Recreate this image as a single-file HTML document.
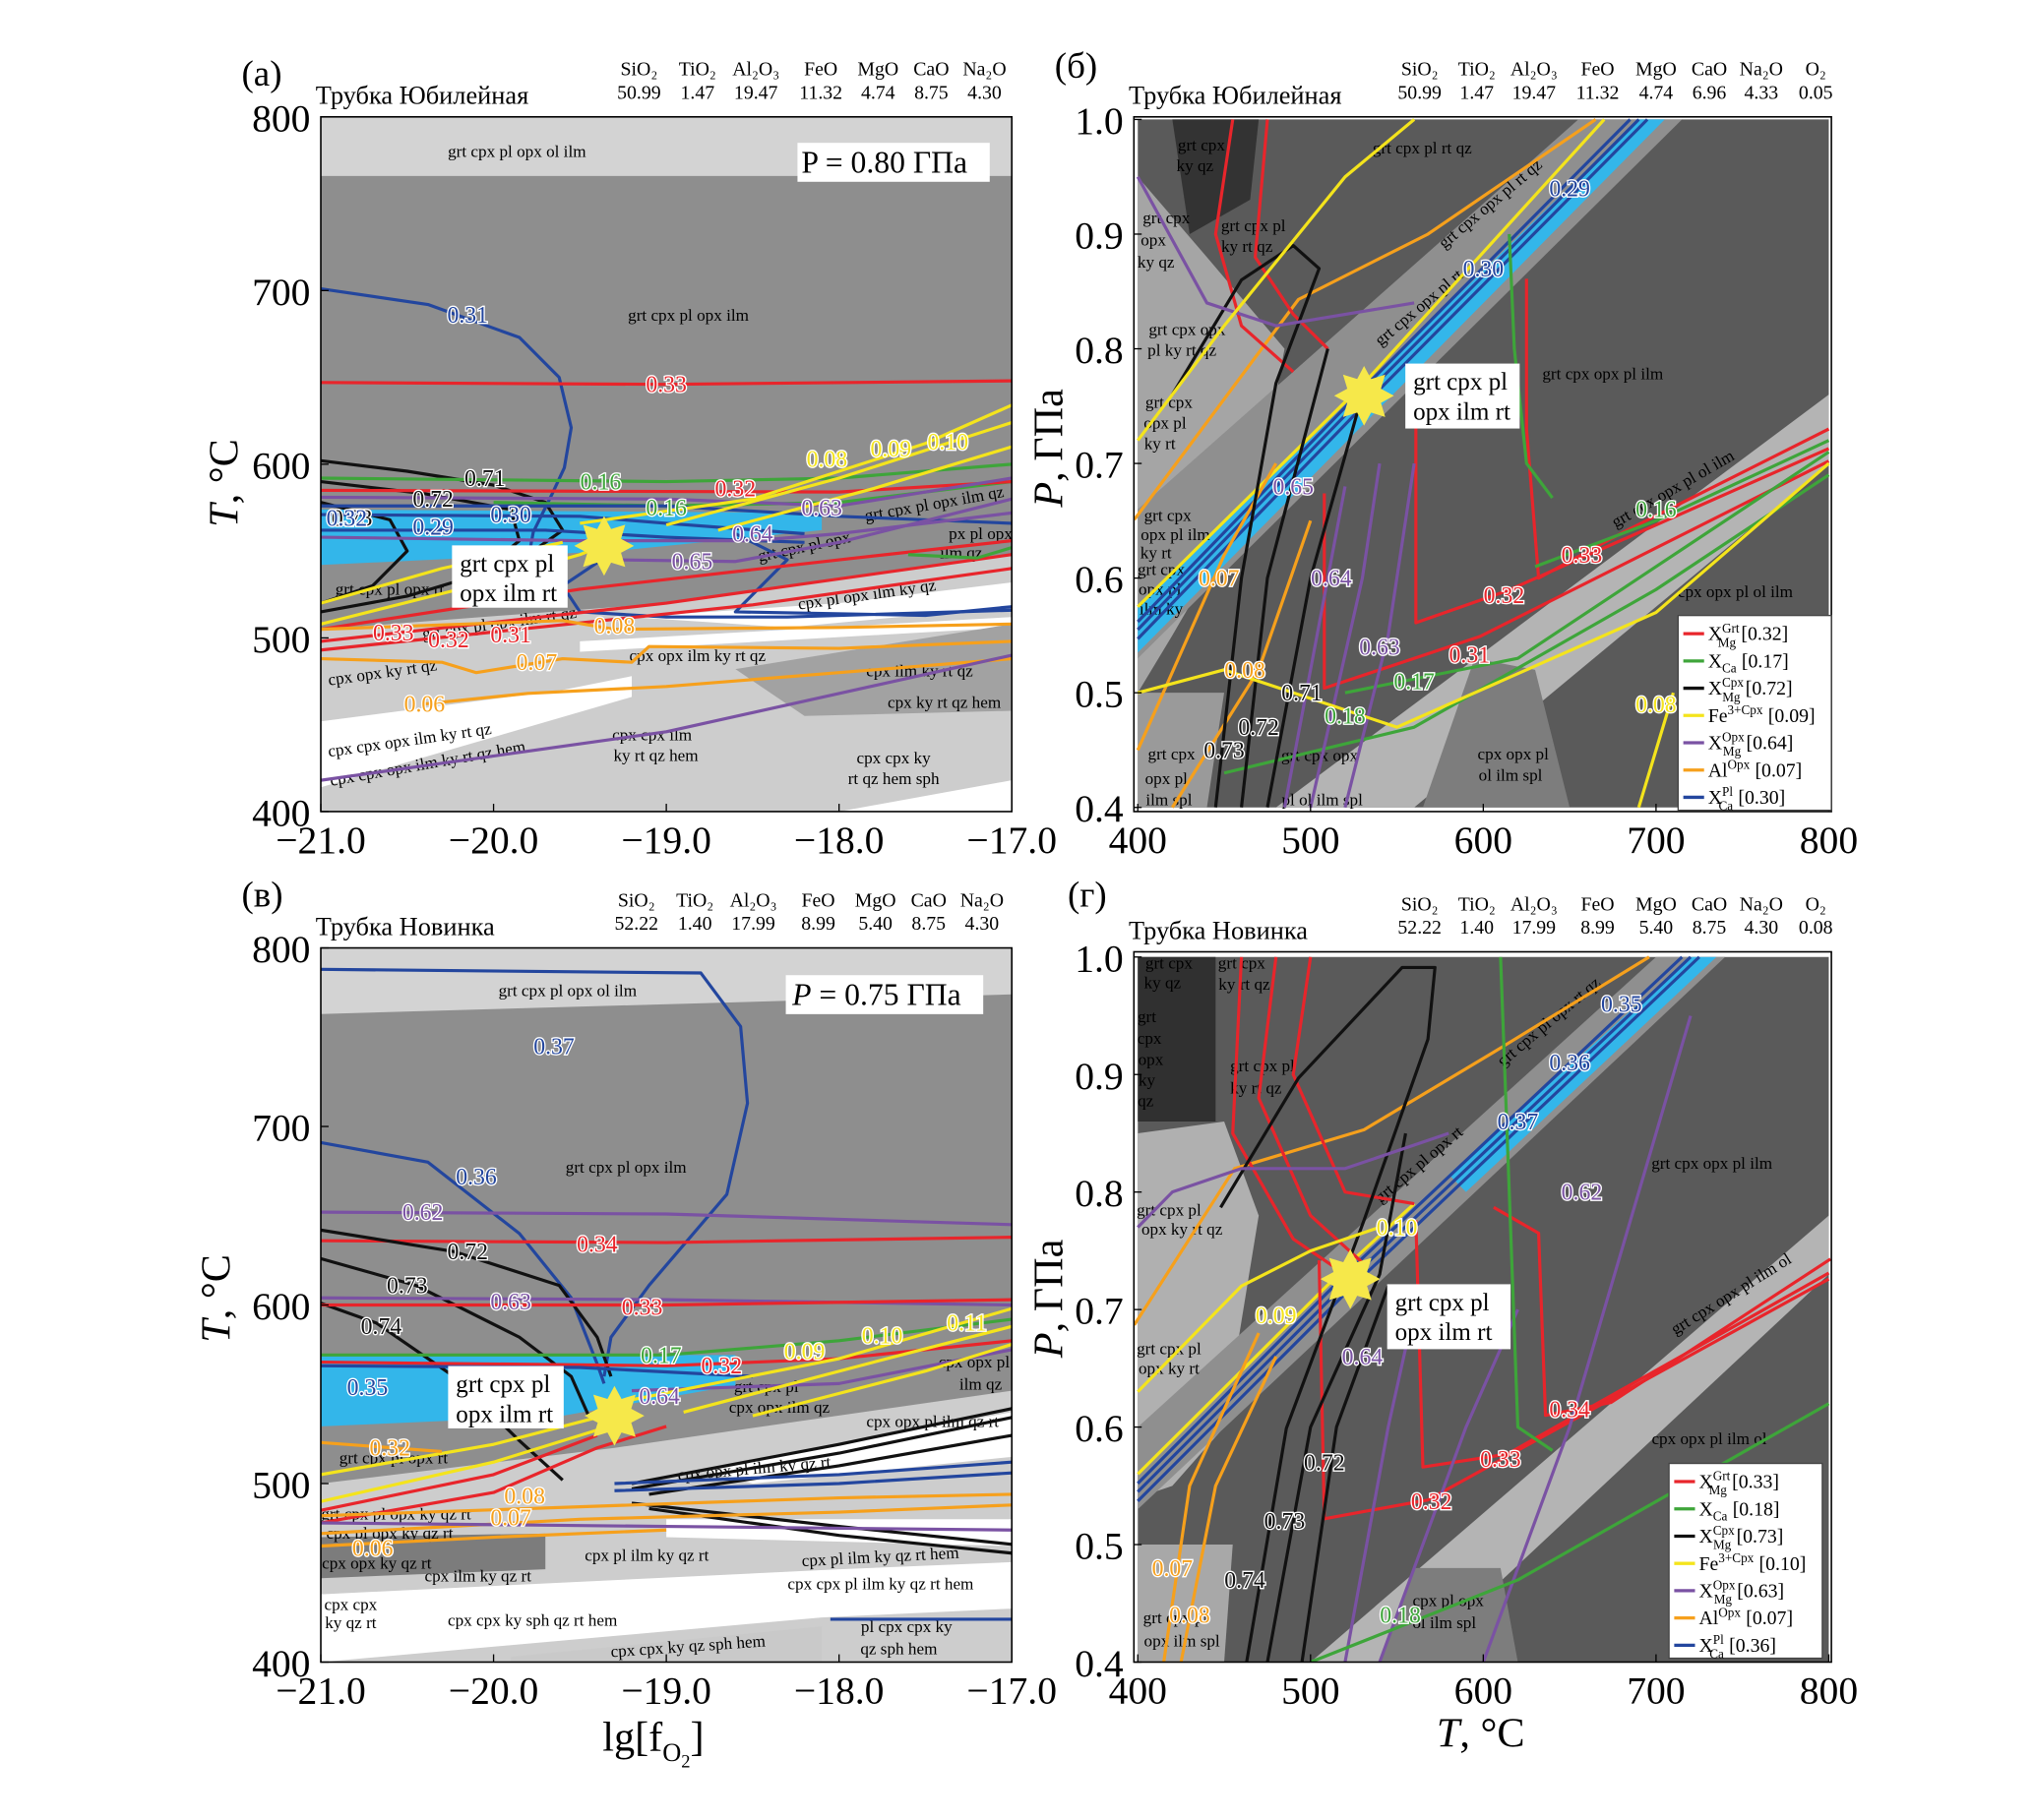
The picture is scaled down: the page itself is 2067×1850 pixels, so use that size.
<!DOCTYPE html>
<html><head><meta charset="utf-8"><style>
html,body{margin:0;padding:0;background:#fff;}
svg{display:block;font-family:"Liberation Serif",serif;}
</style></head><body>
<svg id="fig" width="2067" height="1850" viewBox="0 0 1566 1401.6" xmlns="http://www.w3.org/2000/svg"></svg>
<script>
// ---------- data arrays ----------
const fo2Ticks=[-21,-20,-19,-18,-17];
const fo2TickLabels=['−21.0','−20.0','−19.0','−18.0','−17.0'];
const tTicksA=[400,500,600,700,800];
const pTicks=[0.4,0.5,0.6,0.7,0.8,0.9,1.0];
const pTickLabels=['0.4','0.5','0.6','0.7','0.8','0.9','1.0'];
const tTicksB=[400,500,600,700,800];
const oxidesA=['SiO₂','TiO₂','Al₂O₃','FeO','MgO','CaO','Na₂O'];
const oxValsA=['50.99','1.47','19.47','11.32','4.74','8.75','4.30'];
const oxidesB=['SiO₂','TiO₂','Al₂O₃','FeO','MgO','CaO','Na₂O','O₂'];
const oxValsB=['50.99','1.47','19.47','11.32','4.74','6.96','4.33','0.05'];
const oxValsC=['52.22','1.40','17.99','8.99','5.40','8.75','4.30'];
const oxValsD=['52.22','1.40','17.99','8.99','5.40','8.75','4.30','0.08'];
const legendValsB=['0.32','0.17','0.72','0.09','0.64','0.07','0.30'];
const legendValsD=['0.33','0.18','0.73','0.10','0.63','0.07','0.36'];

const C={r:'#e8252b',g:'#3ea53a',k:'#111',y:'#f4e41c',p:'#7a52a3',o:'#f6a01c',b:'#23469e',c:'#33b6ea'};

// Panel A (fO2, T)
const aRegions=[
 ['#8e8e8e',[[-21,800],[-17,800],[-17,400],[-21,400]]],
 ['#d3d3d3',[[-21,800],[-17,800],[-17,766],[-21,766]]],
 ['#cdcdcd',[[-21,505],[-19,520],[-17,548],[-17,400],[-21,400]]],
 ['#ffffff',[[-19.2,512],[-18,520],[-17,532],[-17,518],[-18.3,506]]],
 ['#ffffff',[[-19.5,498],[-17,512],[-17,506],[-19.5,492]]],
 ['#a2a2a2',[[-18.6,482],[-17,508],[-17,458],[-18.2,455]]],
 ['#ffffff',[[-21,452],[-19.6,470],[-19.2,478],[-19.2,466],[-21,414]]],
 ['#ffffff',[[-18,400],[-17,400],[-17,418]]]
];
const aCyan=[[-21,574],[-18.1,572],[-18.1,562],[-19.3,550],[-21,542]];
const aCurves=[
 [C.b,[[-21,701],[-20.38,692],[-19.85,673],[-19.62,650],[-19.55,621],[-19.59,598],[-19.66,583],[-19.77,561],[-19.8,545],[-19.7,522]],'0.31',[-20.15,686]],
 [C.r,[[-21,647],[-19,646],[-17,648]],'0.33',[-19,646]],
 [C.k,[[-21,602],[-20.5,596],[-20,588],[-19.7,578],[-19.6,562],[-19.8,548],[-20.1,532]],'0.71',[-20.05,592]],
 [C.k,[[-21,590],[-20.4,583],[-19.9,574],[-19.85,556],[-20.1,536],[-20.5,524],[-21,515]],'0.72',[-20.35,580]],
 [C.k,[[-21,578],[-20.6,568],[-20.5,550],[-20.7,530],[-21,520]],'0.73',[-20.82,569]],
 [C.g,[[-21,592],[-19,590],[-18,592],[-17,600]],'0.16',[-19.38,590]],
 [C.g,[[-20,578],[-19,576],[-18,578],[-17,590]],'0.16',[-19,575]],
 [C.r,[[-21,585],[-18,584],[-17,590]],'0.32',[-18.6,586]],
 [C.p,[[-21,581],[-19,580],[-18,576],[-17,592]],'0.63',[-18.1,575]],
 [C.b,[[-21,576],[-19,576],[-18,570],[-17,566]],'0.32',[-20.85,569]],
 [C.b,[[-21,571],[-19.5,570],[-19,566],[-18.2,560]],'0.30',[-19.9,571]],
 [C.b,[[-21,562],[-19.7,562],[-19,558],[-18.2,555]],'0.29',[-20.35,564]],
 [C.p,[[-21,558],[-19.5,556],[-18.5,556],[-18,560],[-17,572]],'0.64',[-18.5,560]],
 [C.b,[[-19.3,550],[-19.6,530],[-19.5,515],[-19,512],[-18.3,512],[-17,516]],'',null],
 [C.b,[[-18.6,560],[-18.3,545],[-18.6,515],[-17.5,513],[-17,518]],'',null],
 [C.p,[[-19.3,545],[-18.6,544],[-18,555],[-17,580]],'0.65',[-18.85,544]],
 [C.y,[[-19.5,566],[-18.5,580],[-17.5,612],[-17,634]],'0.08',[-18.07,603]],
 [C.y,[[-19,565],[-18,592],[-17,624]],'0.09',[-17.7,609]],
 [C.y,[[-18.7,562],[-17.8,586],[-17,610]],'0.10',[-17.37,613]],
 [C.y,[[-21,508],[-20.2,528],[-19.5,548],[-19.3,556]],'',null],
 [C.y,[[-21,520],[-20.3,540],[-19.6,555]],'',null],
 [C.r,[[-21,505],[-19.5,528],[-18,545],[-17,556]],'0.33',[-20.58,503]],
 [C.r,[[-21,498],[-19,520],[-17,548]],'0.32',[-20.26,499]],
 [C.r,[[-21,493],[-18.5,519],[-17,540]],'0.31',[-19.9,502]],
 [C.o,[[-21,505],[-19.6,510],[-19.3,505],[-18,506],[-17,508]],'0.08',[-19.3,507]],
 [C.o,[[-21,488],[-20.3,486],[-20.1,480],[-19.6,488],[-19.2,486],[-19.1,495],[-18,494],[-17,498]],'0.07',[-19.75,486]],
 [C.o,[[-20.4,462],[-19.8,468],[-19,472],[-18,480],[-17,488]],'0.06',[-20.4,462]],
 [C.p,[[-21,418],[-19,446],[-17,490]],'',null],
 [C.g,[[-17.6,548],[-17.2,546],[-17,552]],'',null]
];
const aStar=[-19.36,553];

// Panel B (T, P)
const bRegions=[
 ['#5a5a5a',[[400,1],[800,1],[800,0.4],[400,0.4]]],
 ['#333333',[[420,1],[470,1],[465,0.93],[430,0.9]]],
 ['#a5a5a5',[[400,0.95],[440,0.88],[485,0.8],[470,0.68],[420,0.55],[400,0.5]]],
 ['#8f8f8f',[[400,0.66],[655,1],[715,1],[400,0.53]]],
 ['#b4b4b4',[[480,0.4],[560,0.4],[800,0.7],[800,0.76]]],
 ['#7d7d7d',[[565,0.4],[650,0.4],[630,0.52],[595,0.53]]],
 ['#9a9a9a',[[400,0.4],[440,0.4],[450,0.5],[400,0.5]]]
];
const bCyan=[[400,0.575],[690,1.0],[705,1.0],[400,0.535]];
const bCurves=[
 [C.b,[[400,0.555],[531,0.759],[690,1.0]],'',null],
 [C.b,[[400,0.547],[531,0.751],[695,1.0]],'0.30',[600,0.87]],
 [C.b,[[400,0.562],[531,0.766],[685,1.0]],'0.29',[650,0.94]],
 [C.y,[[400,0.575],[531,0.77],[670,1.0]],'',null],
 [C.o,[[398,0.651],[493,0.843],[568,0.9],[665,1.0]],'',null],
 [C.o,[[400,0.45],[450,0.62],[480,0.7]],'0.07',[447,0.6]],
 [C.o,[[420,0.4],[470,0.52],[500,0.65]],'0.08',[462,0.52]],
 [C.r,[[625,0.861],[625,0.73],[632,0.6],[681,0.64],[800,0.73]],'0.33',[657,0.62]],
 [C.r,[[561,0.742],[561,0.561],[614,0.589],[800,0.713]],'0.32',[612,0.585]],
 [C.r,[[508,0.674],[508,0.504],[598,0.549],[800,0.702]],'0.31',[592,0.533]],
 [C.r,[[455,1.0],[445,0.9],[460,0.82],[490,0.78]],'',null],
 [C.r,[[475,1.0],[468,0.88],[490,0.83],[510,0.8]],'',null],
 [C.g,[[615,0.9],[618,0.8],[625,0.7],[640,0.67]],'',null],
 [C.g,[[630,0.61],[700,0.65],[800,0.72]],'0.16',[700,0.66]],
 [C.g,[[520,0.5],[620,0.53],[800,0.71]],'0.17',[560,0.51]],
 [C.g,[[450,0.43],[560,0.47],[700,0.59],[800,0.69]],'0.18',[520,0.48]],
 [C.k,[[445,0.4],[460,0.6],[480,0.77],[505,0.87],[490,0.89],[460,0.86],[420,0.76]],'0.73',[450,0.45]],
 [C.k,[[460,0.4],[475,0.6],[510,0.8]],'0.72',[470,0.47]],
 [C.k,[[475,0.4],[500,0.6],[530,0.76]],'0.71',[495,0.5]],
 [C.p,[[485,0.4],[510,0.6],[520,0.68]],'0.65',[490,0.68]],
 [C.p,[[500,0.4],[530,0.6],[540,0.7]],'0.64',[512,0.6]],
 [C.p,[[520,0.4],[545,0.55],[560,0.7]],'0.63',[540,0.54]],
 [C.p,[[400,0.95],[440,0.84],[480,0.82],[560,0.84]],'',null],
 [C.y,[[400,0.5],[450,0.52],[550,0.47],[700,0.57],[800,0.7]],'',null],
 [C.y,[[400,0.72],[450,0.82],[520,0.95],[560,1.0]],'',null],
 [C.y,[[690,0.4],[700,0.45],[710,0.5]],'0.08',[700,0.49]]
];
const bStar=[531,0.759];

// Panel C (fO2, T)
const cRegions=[
 ['#8e8e8e',[[-21,800],[-17,800],[-17,400],[-21,400]]],
 ['#d3d3d3',[[-21,800],[-17,800],[-17,774],[-21,763]]],
 ['#cdcdcd',[[-21,500],[-19.3,520],[-17,552],[-17,400],[-21,400]]],
 ['#ffffff',[[-18.8,508],[-17,540],[-17,515],[-18.5,500]]],
 ['#ffffff',[[-19,480],[-17,480],[-17,465],[-19,470]]],
 ['#7c7c7c',[[-21,470],[-19.7,472],[-19.7,452],[-21,447]]],
 ['#ffffff',[[-21,438],[-18,452],[-17,456],[-17,430],[-18.1,425],[-21,400]]],
 ['#c9c9c9',[[-19.9,403],[-18.1,420],[-18.1,400],[-19.9,400]]]
];
const cCyan=[[-21,572],[-18.6,572],[-18.6,555],[-19.6,538],[-21,532]];
const cCurves=[
 [C.b,[[-21,788],[-18.8,786],[-18.57,756],[-18.53,713],[-18.65,662],[-19.1,611],[-19.32,582],[-19.36,560]],'0.37',[-19.65,745]],
 [C.b,[[-21,691],[-20.38,680],[-19.85,640],[-19.55,604],[-19.4,567],[-19.36,556]],'0.36',[-20.1,672]],
 [C.p,[[-21,652],[-19,651],[-17,645]],'0.62',[-20.41,652]],
 [C.r,[[-21,636],[-19,635],[-17,638]],'0.34',[-19.4,634]],
 [C.k,[[-21,642],[-20.23,630],[-19.62,611],[-19.4,582],[-19.32,560]],'0.72',[-20.15,630]],
 [C.k,[[-21,626],[-20.45,611],[-19.85,582],[-19.55,560],[-19.45,538]],'0.73',[-20.5,611]],
 [C.k,[[-21,601],[-20.68,590],[-20.23,560],[-19.85,524],[-19.6,502]],'0.74',[-20.65,588]],
 [C.p,[[-21,604],[-19,603],[-17,600]],'0.63',[-19.9,602]],
 [C.r,[[-21,600],[-19,600],[-17,603]],'0.33',[-19.14,599]],
 [C.g,[[-21,572],[-19,572],[-18,580],[-17,592]],'0.17',[-19.03,572]],
 [C.r,[[-21,568],[-19,566],[-18,570],[-17,580]],'0.32',[-18.68,566]],
 [C.b,[[-21,566],[-19.5,565],[-18.5,560]],'0.35',[-20.73,554]],
 [C.p,[[-19.2,552],[-18,556],[-17,575]],'0.64',[-19.04,549]],
 [C.y,[[-19.3,545],[-18,570],[-17,598]],'0.09',[-18.2,574]],
 [C.y,[[-18.9,540],[-17.8,568],[-17,588]],'0.10',[-17.75,583]],
 [C.y,[[-18.5,538],[-17.5,563],[-17,578]],'0.11',[-17.26,590]],
 [C.y,[[-21,505],[-20,522],[-19.4,537]],'',null],
 [C.y,[[-21,490],[-20,512],[-19.4,530]],'',null],
 [C.r,[[-21,478],[-20,495],[-19.4,520],[-19,532]],'',null],
 [C.r,[[-21,485],[-20,505],[-19.4,527]],'',null],
 [C.k,[[-19.2,500],[-18,522],[-17,542]],'',null],
 [C.k,[[-19.2,497],[-18,517],[-17,537]],'',null],
 [C.k,[[-19.1,494],[-18,510],[-17,527]],'',null],
 [C.k,[[-19.1,486],[-18,471],[-17,461]],'',null],
 [C.k,[[-19.2,489],[-18,476],[-17,466]],'',null],
 [C.b,[[-19.3,500],[-18,505],[-17,512]],'',null],
 [C.b,[[-19.3,496],[-18,500],[-17,506]],'',null],
 [C.o,[[-21,523],[-20.3,518]],'0.32',[-20.6,520]],
 [C.o,[[-21,482],[-19.5,487],[-18,492],[-17,494]],'0.08',[-19.82,493]],
 [C.o,[[-21,472],[-19.5,480],[-18,484],[-17,488]],'0.07',[-19.9,481]],
 [C.o,[[-21,465],[-20,470],[-19,474]],'0.06',[-20.7,464]],
 [C.p,[[-21,478],[-19,476],[-17,474]],'',null],
 [C.b,[[-18.05,424],[-17,424]],'',null]
];
const cStar=[-19.3,538];

// Panel D (T, P)
const dRegions=[
 ['#5a5a5a',[[400,1],[800,1],[800,0.4],[400,0.4]]],
 ['#303030',[[400,1],[445,1],[445,0.86],[400,0.86]]],
 ['#b0b0b0',[[400,0.85],[450,0.86],[470,0.78],[450,0.6],[420,0.55],[400,0.54]]],
 ['#8f8f8f',[[400,0.6],[700,1.0],[740,1.0],[400,0.53]]],
 ['#b4b4b4',[[500,0.4],[560,0.4],[800,0.73],[800,0.78]]],
 ['#7d7d7d',[[540,0.4],[620,0.4],[610,0.48],[560,0.48]]],
 ['#a8a8a8',[[400,0.4],[450,0.4],[455,0.5],[400,0.5]]]
];
const dCyan=[[580,0.815],[720,1.0],[735,1.0],[590,0.8]];
const dCurves=[
 [C.b,[[400,0.545],[523,0.726],[720,1.0]],'0.37',[620,0.86]],
 [C.b,[[400,0.537],[523,0.718],[725,1.0]],'0.36',[650,0.91]],
 [C.b,[[400,0.552],[523,0.734],[715,1.0]],'0.35',[680,0.96]],
 [C.y,[[400,0.56],[523,0.74],[560,0.79]],'0.10',[550,0.77]],
 [C.o,[[398,0.687],[456,0.82],[531,0.853],[606,0.919],[696,1.0]],'',null],
 [C.o,[[415,0.4],[430,0.55],[470,0.68]],'0.07',[420,0.48]],
 [C.o,[[425,0.4],[445,0.55],[480,0.66]],'0.08',[430,0.44]],
 [C.r,[[606,0.787],[632,0.765],[636,0.61],[674,0.621],[801,0.743]],'0.34',[650,0.615]],
 [C.r,[[561,0.776],[565,0.566],[614,0.577],[800,0.731]],'0.33',[610,0.573]],
 [C.r,[[505,0.742],[508,0.522],[568,0.538],[800,0.726]],'0.32',[570,0.537]],
 [C.r,[[460,1.0],[455,0.85],[490,0.76],[520,0.73]],'',null],
 [C.r,[[480,1.0],[470,0.88],[500,0.78],[530,0.74]],'',null],
 [C.r,[[500,1.0],[490,0.9],[520,0.8],[560,0.79]],'',null],
 [C.k,[[463,0.4],[486,0.599],[531,0.776],[568,0.93],[572,0.991],[553,0.991],[493,0.897],[448,0.787]],'0.74',[462,0.47]],
 [C.k,[[475,0.4],[500,0.6],[540,0.73],[555,0.85]],'0.73',[485,0.52]],
 [C.k,[[495,0.4],[515,0.6],[545,0.72]],'0.72',[508,0.57]],
 [C.p,[[520,0.4],[545,0.6],[560,0.7]],'0.64',[530,0.66]],
 [C.p,[[540,0.4],[590,0.6],[620,0.7]],'0.63',[580,0.68]],
 [C.p,[[600,0.4],[650,0.6],[700,0.85],[720,0.95]],'0.62',[657,0.8]],
 [C.p,[[400,0.77],[420,0.8],[460,0.82],[520,0.82],[580,0.85]],'',null],
 [C.g,[[500,0.4],[620,0.47],[800,0.62]],'0.18',[552,0.44]],
 [C.g,[[610,1.0],[615,0.8],[620,0.6],[640,0.58]],'',null],
 [C.y,[[400,0.63],[460,0.72],[500,0.75],[540,0.77]],'0.09',[480,0.695]]
];
const dStar=[523,0.726];

// ---------- drawing helpers ----------
const NS='http://www.w3.org/2000/svg';
const svg=document.getElementById('fig');
function mk(tag,attrs,parent){const e=document.createElementNS(NS,tag);for(const k in attrs)e.setAttribute(k,attrs[k]);(parent||svg).appendChild(e);return e;}
function txt(x,y,s,size,parent,anchor,name){
  const t=mk('text',{x:x,y:y,'font-size':size,'text-anchor':anchor||'start',fill:'#000'},parent);
  t.textContent=s;
  
  
  return t;
}
function pts(arr,fx,fy){return arr.map(p=>fx(p[0]).toFixed(1)+','+fy(p[1]).toFixed(1)).join(' ');}
function star(cx,cy,g){
  let s=[];for(let i=0;i<16;i++){const r=i%2?14:23;const a=i*Math.PI/8-Math.PI/2;s.push((cx+r*Math.cos(a)).toFixed(1)+','+(cy+r*Math.sin(a)).toFixed(1));}
  const e=mk('polygon',{points:s.join(' '),fill:'#f6e84a'},g);
  
  
}
function panel(P){
  const g=mk('g',{});
  
  
  const cp=mk('clipPath',{id:'clip'+P.id},g);
  mk('rect',{x:P.x0,y:P.y0,width:P.x1-P.x0,height:P.y1-P.y0},cp);
  const inner=mk('g',{'clip-path':'url(#clip'+P.id+')'},g);
  P.regions.forEach(r=>{
    const e=mk('polygon',{points:pts(r[1],P.fx,P.fy),fill:r[0]},inner);
    
    
  });
  const cy=mk('polygon',{points:pts(P.cyan,P.fx,P.fy),fill:C.c},inner);
  
  
  P.fields.forEach(f=>{
    const t=txt(f[0],f[1],f[2],f[3]||13,inner,'middle','field-label');
    if(f[4])t.setAttribute('transform','rotate('+f[4]+' '+f[0]+' '+f[1]+')');
  });
  P.curves.forEach(c=>{
    const e=mk('polyline',{points:pts(c[1],P.fx,P.fy),fill:'none',stroke:c[0],'stroke-width':2.4,'stroke-linejoin':'round'},inner);
    
    
  });
  P.curves.forEach(c=>{
    if(!c[3])return;
    const t=mk('text',{x:P.fx(c[3][0]),y:P.fy(c[3][1])+6,'font-size':18,'text-anchor':'middle',fill:c[0],stroke:'#fff','stroke-width':2,'paint-order':'stroke'},inner);
    t.textContent=c[2];
    
    
  });
  star(P.fx(P.star[0]),P.fy(P.star[1]),inner);
  const bx=P.box;
  const br=mk('rect',{x:bx[0],y:bx[1],width:bx[2],height:bx[3],fill:'#fff'},inner);
  
  
  txt(bx[0]+6,bx[1]+20,'grt cpx pl',19,inner,'start','assemblage-label');
  txt(bx[0]+6,bx[1]+43,'opx ilm rt',19,inner,'start','assemblage-label');
  const fr=mk('rect',{x:P.x0,y:P.y0,width:P.x1-P.x0,height:P.y1-P.y0,fill:'none',stroke:'#000','stroke-width':1.2},g);
  
  
  P.xt.forEach((v,i)=>{
    const x=P.fx(v);
    const tk=mk('line',{x1:x,x2:x,y1:P.y1,y2:P.y1-6,stroke:'#000'},g);
    
    
    txt(x,P.y1+32,P.xl[i],30,g,'middle','x-tick-label');
  });
  P.yt.forEach((v,i)=>{
    const y=P.fy(v);
    const tk=mk('line',{x1:P.x0,x2:P.x0+6,y1:y,y2:y,stroke:'#000'},g);
    
    
    txt(P.x0-8,y+11,P.yl[i],30,g,'end','y-tick-label');
  });
  txt(P.hx[0],P.hx[1],P.letter,28,g,'start','panel-letter');
  txt(P.x0-4,P.y0-10,P.title,20,g,'start','panel-title');
  P.ox.forEach((o,i)=>{
    txt(P.oxx[i],P.y0-32,o,15,g,'middle','oxide-name');
    txt(P.oxx[i],P.y0-14,P.ov[i],15,g,'middle','oxide-value');
  });
  return inner;
}
function legend(x,y,vals,parent){
  const r=mk('rect',{x:x,y:y,width:118,height:150,fill:'#fff',stroke:'#444','stroke-width':1},parent);
  
  
  const cols=[C.r,C.g,C.k,C.y,C.p,C.o,C.b];
  const main=['X','X','X','Fe','X','Al','X'];
  const sub=['Mg','Ca','Mg','','Mg','','Ca'];
  const sup=['Grt','','Cpx','3+Cpx','Opx','Opx','Pl'];
  vals.forEach((v,i)=>{
    const yy=y+14+i*21;
    const l=mk('line',{x1:x+4,x2:x+20,y1:yy,y2:yy,stroke:cols[i],'stroke-width':2.5},parent);
    
    
    const t=mk('text',{x:x+23,y:yy+5,'font-size':15},parent);
    
    
    let h='<tspan>'+main[i]+'</tspan>';
    if(sup[i])h+='<tspan font-size="10" dy="-6">'+sup[i]+'</tspan>';
    if(sub[i])h+='<tspan font-size="10" dx="'+(sup[i]?-(sup[i].length*5.5):0)+'" dy="'+(sup[i]?11:4)+'">'+sub[i]+'</tspan>';
    h+='<tspan font-size="15" dx="4" dy="'+(sup[i]&&sub[i]?-5:(sup[i]?6:(sub[i]?-4:0)))+'">['+v+']</tspan>';
    t.innerHTML=h;
  });
}

const fxA=v=>247+(v+21)*133, fyA=v=>625-(v-400)*1.3375;
const fxB=v=>876+(v-400)*1.33, fyB=v=>92+(1-v)*883;
const fyC=v=>1280-(v-400)*1.375;
const fyD=v=>737+(1-v)*905;
const oxXA=[497,542,587,637,681,722,763];
const oxXB=[1093,1137,1181,1230,1275,1316,1356,1398];

panel({id:'a',name:'panel-a',x0:247,x1:779,y0:90,y1:625,fx:fxA,fy:fyA,regions:aRegions,cyan:aCyan,curves:aCurves,star:aStar,
 box:[348,420,89,48],xt:fo2Ticks,xl:fo2TickLabels,yt:tTicksA,yl:tTicksA.map(String),hx:[186,66],letter:'(a)',title:'Трубка Юбилейная',
 ox:oxidesA,ov:oxValsA,oxx:oxXA.map(v=>v-5),
 fields:[[398,121,'grt cpx pl opx ol ilm'],[530,247,'grt cpx pl opx ilm'],[300,458,'grt cpx pl opx rt'],[385,484,'grt cpx pl opx ilm rt qz',13,-8],
 [537,509,'cpx opx ilm ky rt qz'],[708,521,'cpx ilm ky rt qz'],[727,545,'cpx ky rt qz hem'],[502,570,'cpx cpx ilm'],[505,586,'ky rt qz hem'],
 [688,588,'cpx cpx ky'],[688,604,'rt qz hem sph'],[316,574,'cpx cpx opx ilm ky rt qz',13,-8],[330,592,'cpx cpx opx ilm ky rt qz hem',13,-10],
 [295,522,'cpx opx ky rt qz',13,-8],[668,462,'cpx pl opx ilm ky qz',13,-8],[620,425,'grt cpx pl opx',13,-12],[740,430,'ilm qz'],[755,415,'px pl opx'],[720,392,'grt cpx pl opx ilm qz',13,-10]]});
const pa=mk('g',{});


mk('rect',{x:614,y:110,width:148,height:30,fill:'#fff'},pa);
txt(617,133,'P = 0.80 ГПа',24,pa,'start','pressure-label');

panel({id:'b',name:'panel-b',x0:873,x1:1410,y0:90,y1:625,fx:fxB,fy:fyB,regions:bRegions,cyan:bCyan,curves:bCurves,star:bStar,
 box:[1082,280,88,50],xt:tTicksB,xl:tTicksB.map(String),yt:pTicks,yl:pTickLabels,hx:[812,60],letter:'(б)',title:'Трубка Юбилейная',
 ox:oxidesB,ov:oxValsB,oxx:oxXB,
 fields:[[925,116,'grt cpx'],[920,132,'ky qz'],[898,172,'grt cpx'],[888,189,'opx'],[890,206,'ky qz'],[965,178,'grt cpx pl'],[960,194,'ky rt qz'],
 [1095,118,'grt cpx pl rt qz'],[1234,292,'grt cpx opx pl ilm'],[914,258,'grt cpx opx'],[910,274,'pl ky rt qz'],[900,314,'grt cpx'],[897,330,'opx pl'],[893,346,'ky rt'],
 [899,401,'grt cpx'],[905,416,'opx pl ilm'],[890,430,'ky rt'],[894,443,'grt cpx'],[893,458,'opx pl'],[894,473,'ilm ky'],[1336,460,'cpx opx pl ol ilm'],
 [1165,585,'cpx opx pl'],[1163,601,'ol ilm spl'],[1016,586,'grt cpx opx'],[1018,620,'pl ol ilm spl'],[902,585,'grt cpx'],[898,604,'opx pl'],[900,620,'ilm spl'],
 [1290,380,'grt cpx opx pl ol ilm',13,-30],[1150,160,'grt cpx opx pl rt qz',13,-40],[1095,240,'grt cpx opx pl rt',13,-40]]});
legend(1292,474,legendValsB,svg);

panel({id:'c',name:'panel-c',x0:247,x1:779,y0:730,y1:1280,fx:fxA,fy:fyC,regions:cRegions,cyan:cCyan,curves:cCurves,star:cStar,
 box:[345,1052,89,48],xt:fo2Ticks,xl:fo2TickLabels,yt:tTicksA,yl:tTicksA.map(String),hx:[186,698],letter:'(в)',title:'Трубка Новинка',
 ox:oxidesA,ov:oxValsC,oxx:oxXA.map(v=>v-7),
 fields:[[437,767,'grt cpx pl opx ol ilm'],[482,903,'grt cpx pl opx ilm'],[303,1127,'grt cpx pl opx rt'],[718,1099,'cpx opx pl ilm qz rt'],
 [581,1135,'cpx opx pl ilm ky qz rt',13,-5],[498,1202,'cpx pl ilm ky qz rt'],[368,1218,'cpx ilm ky qz rt'],[270,1240,'cpx cpx'],[270,1254,'ky qz rt'],
 [410,1252,'cpx cpx ky sph qz rt hem'],[530,1272,'cpx cpx ky qz sph hem',13,-4],[698,1257,'pl cpx cpx ky'],[692,1274,'qz sph hem'],
 [678,1203,'cpx pl ilm ky qz rt hem',13,-3],[678,1224,'cpx cpx pl ilm ky qz rt hem'],[305,1170,'grt cpx pl opx ky qz rt'],[300,1185,'cpx pl opx ky qz rt'],[290,1208,'cpx opx ky qz rt'],
 [590,1072,'grt cpx pl'],[600,1088,'cpx opx ilm qz'],[750,1053,'cpx opx pl'],[755,1070,'ilm qz']]});
const pc=mk('g',{});


mk('rect',{x:605,y:751,width:152,height:30,fill:'#fff'},pc);
const pt=txt(610,774,'',24,pc,'start','pressure-label');
pt.innerHTML='<tspan font-style="italic">P</tspan> = 0.75 ГПа';

panel({id:'d',name:'panel-d',x0:873,x1:1410,y0:733,y1:1280,fx:fxB,fy:fyD,regions:dRegions,cyan:dCyan,curves:dCurves,star:dStar,
 box:[1068,989,95,50],xt:tTicksB,xl:tTicksB.map(String),yt:pTicks,yl:pTickLabels,hx:[822,698],letter:'(г)',title:'Трубка Новинка',
 ox:oxidesB,ov:oxValsD,oxx:oxXB,
 fields:[[900,746,'grt cpx'],[895,761,'ky qz'],[956,746,'grt cpx'],[958,762,'ky rt qz'],[883,787,'grt'],[885,804,'cpx'],[886,820,'opx'],[883,836,'ky'],[882,852,'qz'],
 [972,825,'grt cpx pl'],[967,842,'ky rt qz'],[900,936,'grt cpx pl'],[910,951,'opx ky rt qz'],[900,1043,'grt cpx pl'],[900,1058,'opx ky rt'],
 [1318,900,'grt cpx opx pl ilm'],[1316,1112,'cpx opx pl ilm ol'],[1115,1237,'cpx pl opx'],[1112,1254,'ol ilm spl'],[905,1250,'grt cpx pl'],[910,1268,'opx ilm spl'],
 [1335,1000,'grt cpx opx pl ilm ol',13,-32],[1195,790,'grt cpx pl opx rt qz',13,-40],[1095,900,'grt cpx pl opx rt',13,-40]]});
legend(1285,1127,legendValsD,svg);

const t1=txt(183,372,'',32,svg,'middle','y-axis-title-a');
t1.setAttribute('transform','rotate(-90 183 372)');
t1.innerHTML='<tspan font-style="italic">T</tspan>, °C';
const t2=txt(177,1000,'',32,svg,'middle','y-axis-title-c');
t2.setAttribute('transform','rotate(-90 177 1000)');
t2.innerHTML='<tspan font-style="italic">T</tspan>, °C';
const t3=txt(818,345,'',32,svg,'middle','y-axis-title-b');
t3.setAttribute('transform','rotate(-90 818 345)');
t3.innerHTML='<tspan font-style="italic">P</tspan>, ГПа';
const t4=txt(818,1000,'',32,svg,'middle','y-axis-title-d');
t4.setAttribute('transform','rotate(-90 818 1000)');
t4.innerHTML='<tspan font-style="italic">P</tspan>, ГПа';
const t5=txt(503,1348,'',32,svg,'middle','x-axis-title-c');
t5.innerHTML='lg[f<tspan font-size="20" dy="8">O</tspan><tspan font-size="14" dy="5">2</tspan><tspan dy="-13">]</tspan>';
const t6=txt(1140,1345,'',32,svg,'middle','x-axis-title-d');
t6.innerHTML='<tspan font-style="italic">T</tspan>, °C';
</script>
</body></html>
